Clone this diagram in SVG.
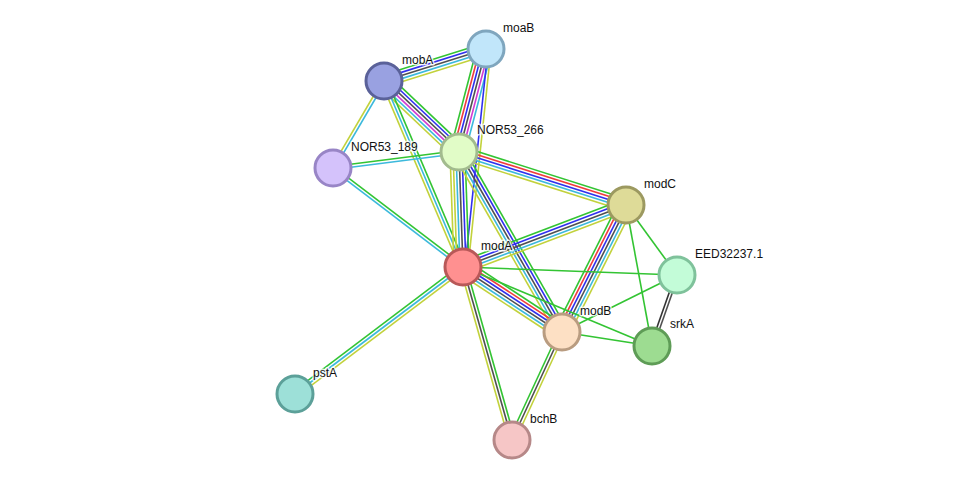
<svg xmlns="http://www.w3.org/2000/svg" width="976" height="486" viewBox="0 0 976 486">
<style>
line{stroke-width:1.6;fill:none}
.G{stroke:#33c433}.R{stroke:#f03c3c}.B{stroke:#3030ee}.K{stroke:#505050}.M{stroke:#d23cd2}.C{stroke:#3cb9dc}.Y{stroke:#c2d23c}
circle{stroke-width:3}
text{font-family:"Liberation Sans",Arial,sans-serif;font-size:12px;fill:#111;stroke:#fff;stroke-width:3;stroke-opacity:0.8;paint-order:stroke;stroke-linejoin:round}
</style>
<rect width="976" height="486" fill="#fff"/>
<g id="edges">
<g transform="translate(384,81) rotate(-17.42)"><line class="G" x2="107" y1="-6" y2="-6"/><line class="B" x2="107" y1="-3" y2="-3"/><line class="K" x2="107"/><line class="C" x2="107" y1="3" y2="3"/><line class="Y" x2="107" y1="6" y2="6"/></g>
<g transform="translate(486,49) rotate(104.69)"><line class="G" x2="107" y1="9" y2="9"/><line class="R" x2="107" y1="6" y2="6"/><line class="B" x2="107" y1="3" y2="3"/><line class="K" x2="107"/><line class="M" x2="107" y1="-3" y2="-3"/><line class="C" x2="107" y1="-6" y2="-6"/></g>
<g transform="translate(486,49) rotate(96.02)"><line class="B" x2="219" y1="-2" y2="-2"/><line class="Y" x2="219" y1="-5" y2="-5"/></g>
<g transform="translate(384,81) rotate(43.43)"><line class="G" x2="103" y1="-7.5" y2="-7.5"/><line class="B" x2="103" y1="-4.5" y2="-4.5"/><line class="K" x2="103" y1="-1.5" y2="-1.5"/><line class="M" x2="103" y1="1.5" y2="1.5"/><line class="C" x2="103" y1="4.5" y2="4.5"/><line class="Y" x2="103" y1="7.5" y2="7.5"/></g>
<g transform="translate(384,81) rotate(120.38)"><line class="C" x2="101" y1="-1.5" y2="-1.5"/><line class="Y" x2="101" y1="1.5" y2="1.5"/></g>
<g transform="translate(384,81) rotate(66.99)"><line class="G" x2="202" y1="-3" y2="-3"/><line class="C" x2="202"/><line class="Y" x2="202" y1="3" y2="3"/></g>
<g transform="translate(333,168) rotate(-7.24)"><line class="G" x2="127" y1="-1.5" y2="-1.5"/><line class="C" x2="127" y1="1.5" y2="1.5"/></g>
<g transform="translate(333,168) rotate(37.29)"><line class="G" x2="163" y1="-1.5" y2="-1.5"/><line class="C" x2="163" y1="1.5" y2="1.5"/></g>
<g transform="translate(459,152) rotate(88.01)"><line class="G" x2="115" y1="-6" y2="-6"/><line class="B" x2="115" y1="-3" y2="-3"/><line class="K" x2="115"/><line class="C" x2="115" y1="3" y2="3"/><line class="Y" x2="115" y1="6" y2="6"/><line class="Y" x2="115" y1="9" y2="9"/></g>
<g transform="translate(459,152) rotate(17.61)"><line class="G" x2="175" y1="-6" y2="-6"/><line class="R" x2="175" y1="-3" y2="-3"/><line class="B" x2="175"/><line class="C" x2="175" y1="3" y2="3"/><line class="Y" x2="175" y1="6" y2="6"/></g>
<g transform="translate(459,152) rotate(60.22)"><line class="G" x2="207" y1="-6" y2="-6"/><line class="B" x2="207" y1="-3" y2="-3"/><line class="K" x2="207"/><line class="C" x2="207" y1="3" y2="3"/><line class="Y" x2="207" y1="6" y2="6"/></g>
<g transform="translate(463,267) rotate(-20.82)"><line class="G" x2="174" y1="-6" y2="-6"/><line class="B" x2="174" y1="-3" y2="-3"/><line class="K" x2="174"/><line class="C" x2="174" y1="3" y2="3"/><line class="Y" x2="174" y1="6" y2="6"/></g>
<g transform="translate(463,267) rotate(33.29)"><line class="G" x2="118" y1="-7.5" y2="-7.5"/><line class="R" x2="118" y1="-4.5" y2="-4.5"/><line class="B" x2="118" y1="-1.5" y2="-1.5"/><line class="K" x2="118" y1="1.5" y2="1.5"/><line class="C" x2="118" y1="4.5" y2="4.5"/><line class="Y" x2="118" y1="7.5" y2="7.5"/></g>
<g transform="translate(463,267) rotate(74.19)"><line class="G" x2="180" y1="-3" y2="-3"/><line class="K" x2="180"/><line class="Y" x2="180" y1="3" y2="3"/></g>
<g transform="translate(463,267) rotate(142.91)"><line class="G" x2="211" y1="3" y2="3"/><line class="C" x2="211"/><line class="Y" x2="211" y1="-3" y2="-3"/></g>
<g transform="translate(626,205) rotate(116.74)"><line class="G" x2="142" y1="7.5" y2="7.5"/><line class="R" x2="142" y1="4.5" y2="4.5"/><line class="B" x2="142" y1="1.5" y2="1.5"/><line class="K" x2="142" y1="-1.5" y2="-1.5"/><line class="C" x2="142" y1="-4.5" y2="-4.5"/><line class="Y" x2="142" y1="-7.5" y2="-7.5"/></g>
<g transform="translate(677,275) rotate(109.40)"><line class="K" x2="75" y1="-1.5" y2="-1.5"/><line class="K" x2="75" y1="1.5" y2="1.5" style="stroke:#333"/></g>
<g transform="translate(562,332) rotate(114.84)"><line class="G" x2="119" y1="3" y2="3"/><line class="K" x2="119"/><line class="Y" x2="119" y1="-3" y2="-3"/></g>
<line class="G" x1="463" y1="267" x2="677" y2="275"/>
<line class="G" x1="463" y1="267" x2="652" y2="346"/>
<line class="G" x1="626" y1="205" x2="677" y2="275"/>
<line class="G" x1="626" y1="205" x2="652" y2="346"/>
<line class="G" x1="562" y1="332" x2="677" y2="275"/>
<line class="G" x1="562" y1="332" x2="652" y2="346"/>
</g>
<g id="moaB"><circle cx="486" cy="49" r="18" fill="#c1e6fa" stroke="#7fa6be"/><text x="503" y="32">moaB</text></g>
<g id="mobA"><circle cx="384" cy="81" r="18" fill="#99a1e1" stroke="#5a6199"/><text x="402" y="64">mobA</text></g>
<g id="NOR53_266"><circle cx="459" cy="152" r="18" fill="#e1fcc7" stroke="#a2bb8e"/><text x="477" y="134">NOR53_266</text></g>
<g id="NOR53_189"><circle cx="333" cy="168" r="18" fill="#d4c2fb" stroke="#9885c6"/><text x="351" y="151">NOR53_189</text></g>
<g id="modC"><circle cx="626" cy="205" r="18" fill="#dedb98" stroke="#9c9960"/><text x="644" y="188">modC</text></g>
<g id="modA"><circle cx="463" cy="267" r="18" fill="#ff9090" stroke="#b85858"/><text x="481" y="250">modA</text></g>
<g id="EED32237.1"><circle cx="677" cy="275" r="18" fill="#c3fcd8" stroke="#7fc29b"/><text x="695" y="258">EED32237.1</text></g>
<g id="modB"><circle cx="562" cy="332" r="18" fill="#fde0c4" stroke="#b99c80"/><text x="580" y="315">modB</text></g>
<g id="srkA"><circle cx="652" cy="346" r="18" fill="#9ddc91" stroke="#5e9c56"/><text x="670" y="328">srkA</text></g>
<g id="pstA"><circle cx="295" cy="394" r="18" fill="#9de0d8" stroke="#5ca099"/><text x="313" y="377">pstA</text></g>
<g id="bchB"><circle cx="512" cy="440" r="18" fill="#f6c6c6" stroke="#b68888"/><text x="530" y="423">bchB</text></g>
</svg>
